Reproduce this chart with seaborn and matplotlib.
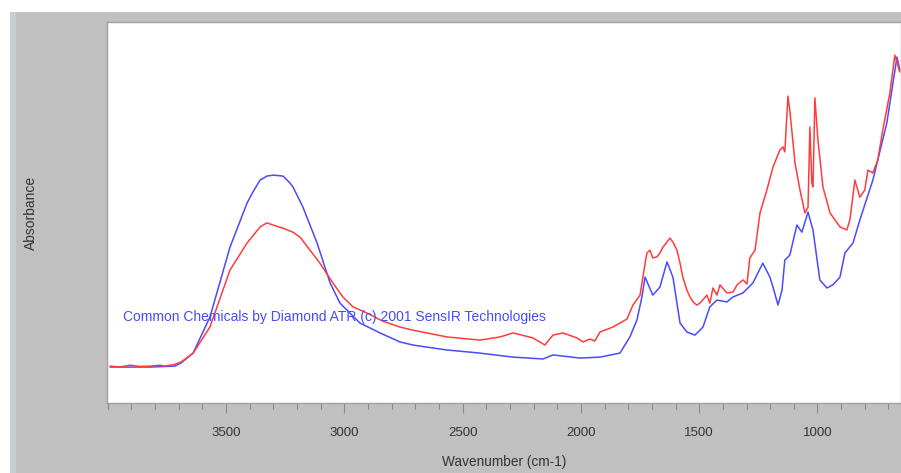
import numpy as np
import pandas as pd
import matplotlib
matplotlib.use("Agg")
import matplotlib.pyplot as plt
from matplotlib.patches import Rectangle
from matplotlib.ticker import MultipleLocator
import seaborn as sns

# ATR-IR spectra: wavenumber (cm-1) and absorbance for the two samples
blue_wn = [3990, 3821, 3716, 3690, 3639, 3568, 3483, 3411, 3386, 3356, 3327, 3300,
           3259, 3230, 3217, 3175, 3115, 3060, 3018, 2934, 2849, 2765, 2710, 2566,
           2427, 2287, 2160, 2118, 2004, 1919, 1835, 1793, 1763, 1742, 1729, 1696,
           1666, 1636, 1611, 1581, 1552, 1518, 1484, 1455, 1425, 1383, 1357, 1315,
           1273, 1231, 1201, 1188, 1167, 1150, 1138, 1117, 1087, 1066, 1040, 1019,
           990, 960, 935, 905, 884, 850, 821, 766, 707, 681, 664, 652]
blue_abs = [0.000, 0.000, 0.003, 0.013, 0.045, 0.161, 0.387, 0.529, 0.565, 0.603,
            0.616, 0.619, 0.616, 0.594, 0.581, 0.516, 0.400, 0.271, 0.206, 0.142,
            0.110, 0.081, 0.071, 0.055, 0.045, 0.032, 0.026, 0.039, 0.029, 0.032,
            0.045, 0.097, 0.152, 0.226, 0.290, 0.232, 0.258, 0.339, 0.290, 0.142,
            0.113, 0.103, 0.129, 0.194, 0.216, 0.210, 0.226, 0.239, 0.271, 0.335,
            0.290, 0.258, 0.200, 0.248, 0.345, 0.361, 0.458, 0.435, 0.500, 0.442,
            0.281, 0.255, 0.265, 0.290, 0.368, 0.400, 0.474, 0.603, 0.787, 0.916,
            1.000, 0.958]

red_wn = [3990, 3948, 3906, 3864, 3821, 3780, 3758, 3720, 3690, 3639, 3568, 3483,
          3411, 3356, 3327, 3301, 3259, 3217, 3187, 3145, 3103, 3048, 3006, 2963,
          2904, 2837, 2765, 2710, 2566, 2427, 2342, 2287, 2203, 2152, 2118, 2076,
          2017, 1991, 1962, 1941, 1919, 1865, 1805, 1780, 1750, 1738, 1721, 1708,
          1696, 1679, 1666, 1653, 1636, 1624, 1611, 1594, 1581, 1569, 1552, 1539,
          1526, 1510, 1497, 1467, 1455, 1442, 1425, 1412, 1383, 1357, 1340, 1315,
          1298, 1286, 1264, 1243, 1214, 1188, 1159, 1146, 1138, 1125, 1117, 1095,
          1074, 1053, 1040, 1032, 1024, 1019, 1011, 998, 977, 947, 905, 876, 863,
          842, 821, 800, 787, 766, 745, 724, 694, 673, 652]
red_abs = [0.003, 0.000, 0.006, 0.002, 0.003, 0.006, 0.003, 0.008, 0.016, 0.045,
           0.129, 0.313, 0.400, 0.452, 0.465, 0.458, 0.448, 0.435, 0.419, 0.377,
           0.335, 0.271, 0.226, 0.194, 0.174, 0.148, 0.129, 0.119, 0.097, 0.087,
           0.097, 0.110, 0.094, 0.071, 0.103, 0.110, 0.094, 0.081, 0.090, 0.084,
           0.113, 0.129, 0.155, 0.200, 0.232, 0.290, 0.368, 0.377, 0.352, 0.355,
           0.368, 0.387, 0.403, 0.416, 0.403, 0.377, 0.335, 0.290, 0.248, 0.226,
           0.210, 0.200, 0.206, 0.232, 0.206, 0.255, 0.232, 0.265, 0.239, 0.242,
           0.265, 0.281, 0.268, 0.352, 0.377, 0.497, 0.571, 0.645, 0.700, 0.710,
           0.694, 0.874, 0.829, 0.658, 0.571, 0.497, 0.516, 0.774, 0.594, 0.581,
           0.868, 0.732, 0.581, 0.497, 0.452, 0.442, 0.474, 0.603, 0.548, 0.571,
           0.635, 0.626, 0.668, 0.765, 0.884, 1.006, 0.952]

x_ticks = [3500, 3000, 2500, 2000, 1500, 1000]
credit = "Common Chemicals by Diamond ATR (c) 2001 SensIR Technologies"

df = pd.concat([
    pd.DataFrame({"wn": blue_wn, "abs": blue_abs, "sample": "blue"}),
    pd.DataFrame({"wn": red_wn, "abs": red_abs, "sample": "red"}),
])

sns.set_style("white")
plt.rcParams["font.family"] = ["Liberation Sans", "DejaVu Sans"]

fig = plt.figure(figsize=(9.01, 4.73), dpi=100, facecolor="white")
# grey window panel behind the plot
fig.patches.append(Rectangle((10 / 901, 0), 1, 1 - 12 / 473, transform=fig.transFigure,
                             facecolor="#c0c0c0", edgecolor="none", zorder=-2))
fig.patches.append(Rectangle((10 / 901, 0), 6 / 901, 1 - 12 / 473, transform=fig.transFigure,
                             facecolor="#c9ccd2", edgecolor="none", zorder=-1))

ax = fig.add_axes([107 / 901, 70 / 473, 794 / 901, 381 / 473])
ax.set_facecolor("white")

sns.lineplot(data=df, x="wn", y="abs", hue="sample",
             palette={"blue": "#4a4aff", "red": "#ff3c3c"},
             estimator=None, linewidth=1.1, legend=False, ax=ax)

ax.set_xlim(4003, 647)
ax.set_ylim(-0.116, 1.113)
ax.set_xticks(x_ticks)
ax.set_xticklabels([str(t) for t in x_ticks])
ax.xaxis.set_minor_locator(MultipleLocator(100))
ax.set_yticks([])

ax.tick_params(axis="x", which="major", direction="out", length=7.5, width=0.8,
               color="#8a8a8a", pad=10, labelsize=9.5, labelcolor="#333333", bottom=True)
ax.tick_params(axis="x", which="minor", direction="out", length=4, width=0.8,
               color="#8a8a8a", bottom=True)

for s in ax.spines.values():
    s.set_color("#a0a0a0")
    s.set_linewidth(1.0)

ax.set_xlabel("Wavenumber (cm-1)", fontsize=9.8, color="#333333", labelpad=11)
ax.set_ylabel("Absorbance", fontsize=10, color="#333333", labelpad=50)

ax.text(3935, 0.161, credit, color="#4a4aff", fontsize=10, va="center", ha="left")

fig.savefig("out.png", dpi=100, facecolor=fig.get_facecolor())
